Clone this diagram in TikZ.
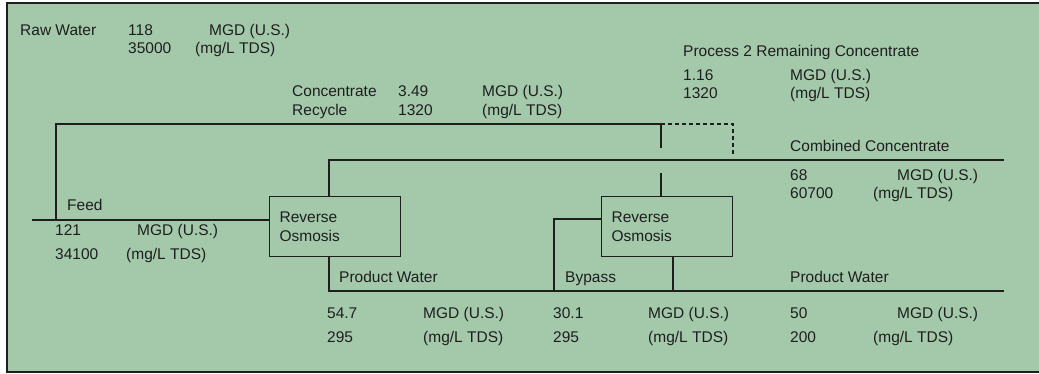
\documentclass[tikz,border=0pt]{standalone}
\usepackage{fontspec}
\setmainfont{Liberation Sans}
\definecolor{panelgreen}{RGB}{163,201,170}
\definecolor{linegray}{RGB}{30,30,30}
\begin{document}
\begin{tikzpicture}[
  x=1pt, y=-1pt,
  every node/.style={font=\fontsize{15.5}{18.5}\selectfont, text=linegray},
  lbl/.style={anchor=base west, inner sep=0pt},
  robox/.style={draw=linegray, line width=1.3pt, anchor=north west, minimum height=60pt,
    text width=111pt, inner xsep=10pt, align=left},
  pipe/.style={draw=linegray, line width=1.3pt},
  vent/.style={draw=linegray, line width=1.3pt, dashed, dash pattern=on 4pt off 3pt}
]
\useasboundingbox (0,0) rectangle (1039,374);
\fill[panelgreen] (7,3) rectangle (1041,372);
\draw[linegray, line width=1.6pt] (1041,3) -- (7,3) -- (7,372) -- (1041,372);

% units
\node[robox] (ro1) at (269,196) {Reverse\\Osmosis};
\node[robox] (ro2) at (601,196) {Reverse\\Osmosis};

% junctions and free ends
\coordinate (feedin) at (32,220);
\coordinate (rcy) at (56,220);
\coordinate (split) at (661,124);
\coordinate (splitend) at (661,148);
\coordinate (ventend) at (733,155);
\coordinate (conc) at (329,160);
\coordinate (concend) at (1004,160);
\coordinate (ro2in) at (661,173);
\coordinate (prod) at (329,291);
\coordinate (prodend) at (1004,291);
\coordinate (byp) at (554,291);
\coordinate (bypup) at (554,219);
\coordinate (prod2) at (673,291);

% pipes
\draw[pipe] (feedin) -- (feedin -| ro1.west);
\draw[pipe] (rcy) |- (split) -- (splitend);
\draw[vent] (split) -| (ventend);
\draw[pipe] (conc |- ro1.north) -- (conc) -- (concend);
\draw[pipe] (ro2in) -- (ro2in |- ro2.north);
\draw[pipe] (prod |- ro1.south) -- (prod) -- (prodend);
\draw[pipe] (byp) -- (bypup) -- (bypup -| ro2.west);
\draw[pipe] (prod2 |- ro2.south) -- (prod2);

% raw water
\node[lbl] (rawname) at (20,36) {Raw Water};
\node[lbl] (rawq) at (128,36) {118};
\node[lbl] (rawqu) at (209,36) {MGD (U.S.)};
\node[lbl] (rawc) at (128,54) {35000};
\node[lbl] (rawcu) at (195,54) {(mg/L TDS)};

% concentrate recycle
\node[lbl] (rcyname) at (292,97) {Concentrate};
\node[lbl] (rcyname2) at (292,115.5) {Recycle};
\node[lbl] (rcyq) at (398,97) {3.49};
\node[lbl] (rcyqu) at (482,97) {MGD (U.S.)};
\node[lbl] (rcyc) at (398,115.5) {1320};
\node[lbl] (rcycu) at (482,115.5) {(mg/L TDS)};

% process 2 remaining concentrate
\node[lbl] (remname) at (683,57) {Process 2 Remaining Concentrate};
\node[lbl] (remq) at (683,80.5) {1.16};
\node[lbl] (remqu) at (790,80.5) {MGD (U.S.)};
\node[lbl] (remc) at (683,98.5) {1320};
\node[lbl] (remcu) at (790,98.5) {(mg/L TDS)};

% combined concentrate
\node[lbl] (ccname) at (790,152) {Combined Concentrate};
\node[lbl] (ccq) at (790,180.5) {68};
\node[lbl] (ccqu) at (897,180.5) {MGD (U.S.)};
\node[lbl] (ccc) at (790,198.5) {60700};
\node[lbl] (cccu) at (873,198.5) {(mg/L TDS)};

% feed
\node[lbl] (feedname) at (67,210.5) {Feed};
\node[lbl] (feedq) at (55,236) {121};
\node[lbl] (feedqu) at (137,236) {MGD (U.S.)};
\node[lbl] (feedc) at (55,259.5) {34100};
\node[lbl] (feedcu) at (126,259.5) {(mg/L TDS)};

% product water, bypass, final product
\node[lbl] (p1name) at (339,282.5) {Product Water};
\node[lbl] (bpname) at (565,282.5) {Bypass};
\node[lbl] (p2name) at (790,282.5) {Product Water};
\node[lbl] (p1q) at (327,318.5) {54.7};
\node[lbl] (p1qu) at (423,318.5) {MGD (U.S.)};
\node[lbl] (p1c) at (327,342) {295};
\node[lbl] (p1cu) at (423,342) {(mg/L TDS)};
\node[lbl] (bpq) at (553,318.5) {30.1};
\node[lbl] (bpqu) at (648,318.5) {MGD (U.S.)};
\node[lbl] (bpc) at (553,342) {295};
\node[lbl] (bpcu) at (648,342) {(mg/L TDS)};
\node[lbl] (p2q) at (790,318.5) {50};
\node[lbl] (p2qu) at (897,318.5) {MGD (U.S.)};
\node[lbl] (p2c) at (790,342) {200};
\node[lbl] (p2cu) at (873,342) {(mg/L TDS)};
\end{tikzpicture}
\end{document}
